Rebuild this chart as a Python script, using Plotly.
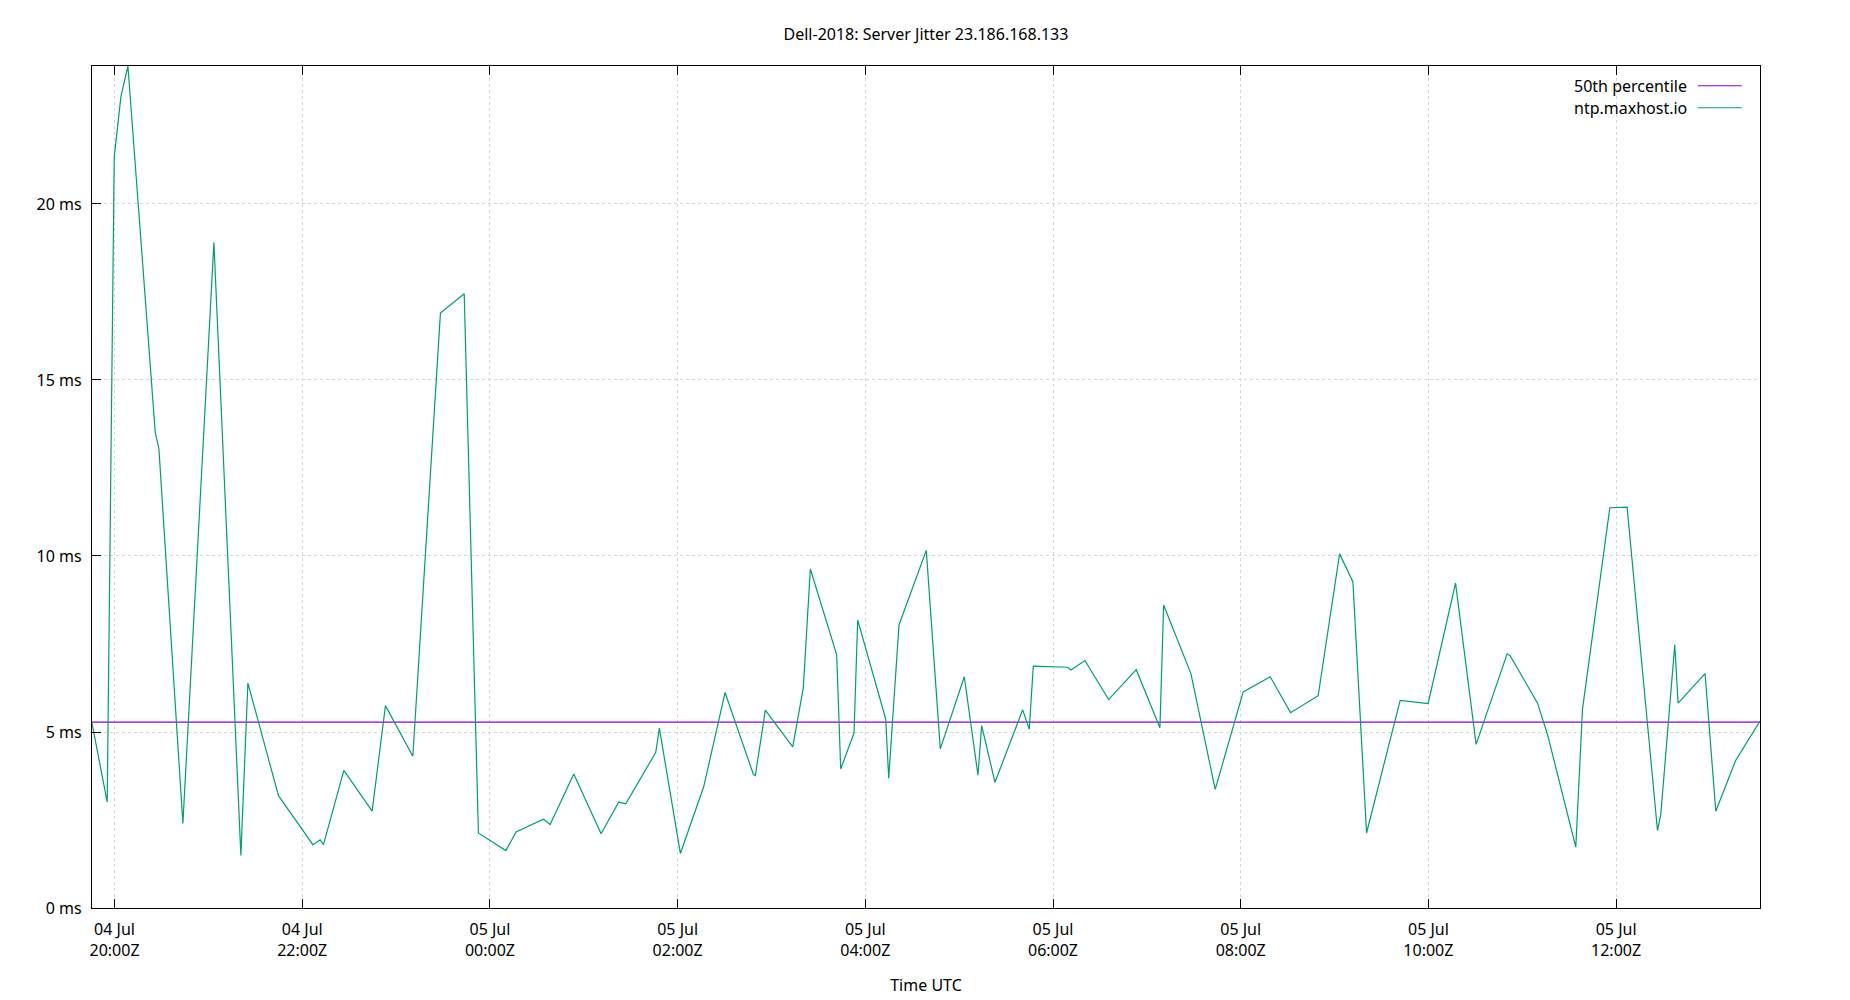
import plotly.graph_objects as go

# server jitter samples (UTC)
times = [
    "2023-07-04 19:45:36", "2023-07-04 19:55:20", "2023-07-04 19:59:49", "2023-07-04 20:04:05",
    "2023-07-04 20:08:34", "2023-07-04 20:26:01", "2023-07-04 20:28:23", "2023-07-04 20:43:43",
    "2023-07-04 21:03:32", "2023-07-04 21:20:47", "2023-07-04 21:25:16", "2023-07-04 21:44:49",
    "2023-07-04 22:06:48", "2023-07-04 22:11:28", "2023-07-04 22:13:35", "2023-07-04 22:26:37",
    "2023-07-04 22:44:42", "2023-07-04 22:53:13", "2023-07-04 23:10:43", "2023-07-04 23:28:22",
    "2023-07-04 23:43:34", "2023-07-04 23:52:39", "2023-07-05 00:10:10", "2023-07-05 00:16:45",
    "2023-07-05 00:34:12", "2023-07-05 00:38:29", "2023-07-05 00:53:37", "2023-07-05 01:11:04",
    "2023-07-05 01:22:23", "2023-07-05 01:26:52", "2023-07-05 01:46:02", "2023-07-05 01:48:20",
    "2023-07-05 02:01:46", "2023-07-05 02:16:43", "2023-07-05 02:30:20", "2023-07-05 02:48:25",
    "2023-07-05 02:49:41", "2023-07-05 02:56:05", "2023-07-05 03:13:36", "2023-07-05 03:20:22",
    "2023-07-05 03:24:51", "2023-07-05 03:41:43", "2023-07-05 03:44:16", "2023-07-05 03:52:46",
    "2023-07-05 03:55:08", "2023-07-05 04:13:02", "2023-07-05 04:14:58", "2023-07-05 04:21:32",
    "2023-07-05 04:38:59", "2023-07-05 04:47:56", "2023-07-05 05:03:17", "2023-07-05 05:12:02",
    "2023-07-05 05:14:24", "2023-07-05 05:22:54", "2023-07-05 05:40:36", "2023-07-05 05:44:49",
    "2023-07-05 05:47:23", "2023-07-05 06:09:22", "2023-07-05 06:11:28", "2023-07-05 06:20:25",
    "2023-07-05 06:35:34", "2023-07-05 06:53:13", "2023-07-05 07:08:21", "2023-07-05 07:10:43",
    "2023-07-05 07:28:10", "2023-07-05 07:43:42", "2023-07-05 08:01:36", "2023-07-05 08:18:51",
    "2023-07-05 08:31:53", "2023-07-05 08:49:32", "2023-07-05 09:03:13", "2023-07-05 09:11:43",
    "2023-07-05 09:20:28", "2023-07-05 09:41:57", "2023-07-05 09:59:50", "2023-07-05 10:17:21",
    "2023-07-05 10:30:31", "2023-07-05 10:50:20", "2023-07-05 10:52:15", "2023-07-05 11:09:46",
    "2023-07-05 11:16:09", "2023-07-05 11:34:14", "2023-07-05 11:38:31", "2023-07-05 11:55:59",
    "2023-07-05 12:07:02", "2023-07-05 12:26:28", "2023-07-05 12:28:34", "2023-07-05 12:37:31",
    "2023-07-05 12:39:38", "2023-07-05 12:56:53", "2023-07-05 13:03:44", "2023-07-05 13:16:31",
    "2023-07-05 13:32:00",
]
jitter_ms = [
    5.25, 3.01, 21.34, 23.05, 23.92, 13.52, 13.04, 2.40,
    18.91, 1.49, 6.39, 3.19, 1.80, 1.94, 1.80, 3.91,
    2.75, 5.75, 4.31, 16.90, 17.45, 2.13, 1.63, 2.16,
    2.52, 2.37, 3.81, 2.11, 3.01, 2.96, 4.42, 5.11,
    1.55, 3.45, 6.12, 3.80, 3.76, 5.62, 4.58, 6.26,
    9.63, 7.19, 3.95, 4.97, 8.18, 5.37, 3.69, 8.04,
    10.16, 4.52, 6.57, 3.77, 5.18, 3.57, 5.63, 5.08,
    6.87, 6.84, 6.76, 7.03, 5.92, 6.77, 5.12, 8.61,
    6.66, 3.37, 6.14, 6.57, 5.55, 6.03, 10.06, 9.27,
    2.13, 5.90, 5.81, 9.23, 4.65, 7.22, 7.17, 5.82,
    4.93, 1.73, 5.65, 11.37, 11.39, 2.20, 2.66, 7.48,
    5.82, 6.66, 2.75, 4.20, 5.31,
]
median_ms = 5.28

server_name = "ntp.maxhost.io"
median_name = "50th percentile"
green = "#009e73"
purple = "#9400d3"
font = "Noto Sans"

fig = go.Figure()
fig.add_trace(go.Scatter(x=[times[0], times[-1]], y=[median_ms, median_ms], mode="lines",
                         name=median_name, line=dict(color=purple, width=1.1)))
fig.add_trace(go.Scatter(x=times, y=jitter_ms, mode="lines", name=server_name,
                         line=dict(color=green, width=1.2)))

# gnuplot style key: text on the left, line sample on the right
for i, (name, col) in enumerate([(median_name, purple), (server_name, green)]):
    yy = 0.9766 - i * 0.0261
    fig.add_annotation(xref="paper", yref="paper", x=0.9577, y=yy, text=name,
                       showarrow=False, xanchor="right", yanchor="middle",
                       font=dict(family=font, size=16, color="black"))
    fig.add_shape(type="line", xref="paper", yref="paper", x0=0.9627, x1=0.989,
                  y0=yy, y1=yy, line=dict(color=col, width=1.1))

fig.update_layout(
    width=1850, height=1000,
    margin=dict(l=84, r=98, t=58, b=100, autoexpand=False),
    plot_bgcolor="white", paper_bgcolor="white",
    showlegend=False,
    font=dict(family=font, size=16, color="black"),
    title=dict(text="Dell-2018: Server Jitter 23.186.168.133", x=0.4962, xanchor="center",
               y=0.974, yanchor="middle", font=dict(family=font, size=16)),
)
fig.update_xaxes(
    type="date", range=[times[0], times[-1]],
    tick0="2023-07-04 20:00:00", dtick=7200000, tickformat="%d %b<br>%H:%MZ",
    ticks="inside", ticklen=9, tickcolor="black", mirror="ticks",
    ticklabelstandoff=7,
    showline=True, linecolor="black", linewidth=1.3,
    showgrid=True, gridcolor="#d6d6d6", griddash="dot", gridwidth=1,
    zeroline=False, automargin=False,
    title=dict(text="Time UTC", standoff=19, font=dict(family=font, size=16)),
)
fig.update_yaxes(
    range=[0, max(jitter_ms)], tickvals=[0, 5, 10, 15, 20],
    ticktext=["0 ms", "5 ms", "10 ms", "15 ms", "20 ms"],
    ticks="inside", ticklen=9, tickcolor="black", mirror=True,
    ticklabelstandoff=6,
    showline=True, linecolor="black", linewidth=1.3,
    showgrid=True, gridcolor="#d6d6d6", griddash="dot", gridwidth=1,
    zeroline=False, automargin=False,
)

fig.write_html("out.html")
